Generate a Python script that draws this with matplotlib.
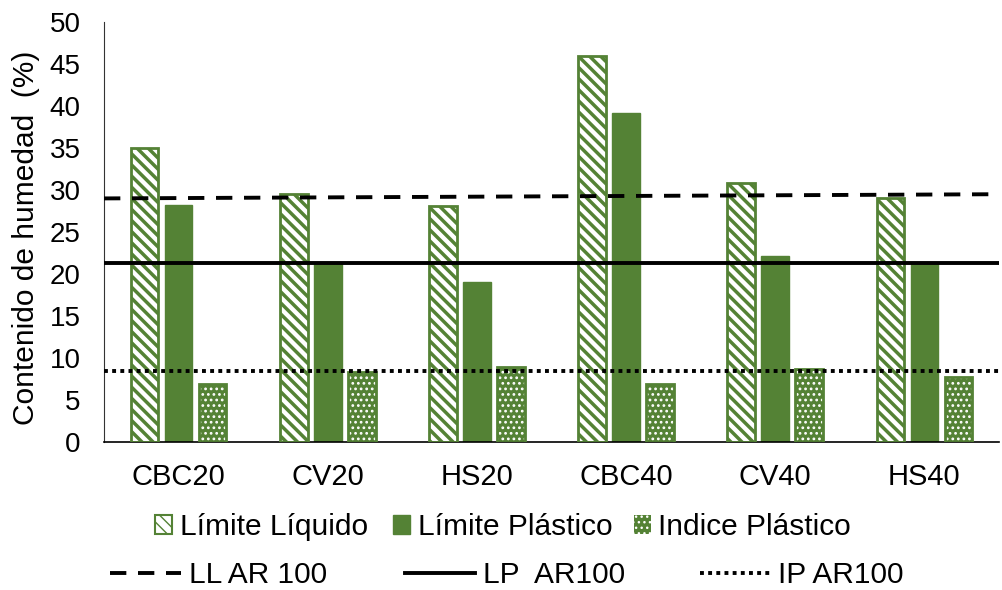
import matplotlib.pyplot as plt
from matplotlib.patches import Patch
import numpy as np

plt.rcParams['font.family'] = ['Liberation Sans', 'DejaVu Sans']

categories = ['CBC20', 'CV20', 'HS20', 'CBC40', 'CV40', 'HS40']
limite_liquido = [35.0, 29.5, 28.1, 46.0, 30.8, 29.1]
limite_plastico = [28.2, 21.2, 19.0, 39.2, 22.1, 21.3]
indice_plastico = [6.9, 8.3, 8.9, 6.9, 8.7, 7.8]

# reference lines (start, end)
ll_ar100 = [29.0, 29.5]
lp_ar100 = [21.3, 21.3]
ip_ar100 = [8.4, 8.4]

green = '#548235'

fig = plt.figure(figsize=(10.03, 5.90), dpi=100)
ax = fig.add_axes([0.1037, 0.2508, 0.8923, 0.7119])

x = np.arange(len(categories))
w = 0.185
off = 0.228

plt.rcParams['hatch.linewidth'] = 2.5
ax.bar(x - off, limite_liquido, w, facecolor='white', edgecolor=green,
       hatch='\\\\\\', linewidth=0, zorder=2)
ax.bar(x - off, limite_liquido, w, facecolor='none', edgecolor=green,
       linewidth=2, zorder=3)
ax.bar(x, limite_plastico, w, color=green, edgecolor=green, zorder=2)
plt.rcParams['hatch.linewidth'] = 1.2
ax.bar(x + off, indice_plastico, w, facecolor=green, edgecolor='white',
       hatch='...', linewidth=0, zorder=2)
ax.bar(x + off, indice_plastico, w, facecolor='none', edgecolor=green,
       linewidth=2, zorder=3)

ax.set_xlim(-0.5, len(categories) - 0.5)
xl = ax.get_xlim()
l1, = ax.plot(xl, ll_ar100, color='black', lw=2.8, ls=(0, (4.2, 3.0)), zorder=4)
l2, = ax.plot(xl, lp_ar100, color='black', lw=2.8, ls='-', zorder=4)
l3, = ax.plot(xl, ip_ar100, color='black', lw=2.8, ls=(0, (1, 1.1)), zorder=4)

ax.set_ylim(0, 50)
ax.set_yticks(range(0, 51, 5))
ax.set_xticks(x)
ax.set_xticklabels(categories)
ax.tick_params(axis='y', length=0, labelsize=20, pad=17)
ax.tick_params(axis='x', length=0, labelsize=21, pad=15)
ax.set_ylabel('Contenido de humedad  (%)', fontsize=21.5)
ax.yaxis.set_label_coords(-0.072, 0.486)

for s in ['top', 'right']:
    ax.spines[s].set_visible(False)
ax.spines['left'].set_color('#333333')
ax.spines['bottom'].set_color('black')
ax.spines['bottom'].set_linewidth(1.2)

# legend, built entry by entry like the Excel one
plt.rcParams['hatch.linewidth'] = 2.0
h_ll = Patch(facecolor='white', edgecolor=green, hatch='\\\\\\', linewidth=1.5)
h_lp = Patch(facecolor=green, edgecolor=green)
plt.rcParams['hatch.linewidth'] = 1.0
h_ip = Patch(facecolor=green, edgecolor='white', hatch='...', linewidth=0)

bar_entries = [(h_ll, 'Límite Líquido', 0.155), (h_lp, 'Límite Plástico', 0.392),
               (h_ip, 'Indice Plástico', 0.632)]
line_entries = [(l1, 'LL AR 100', 0.110), (l2, 'LP  AR100', 0.404),
                (l3, 'IP AR100', 0.698)]

for h, lab, xa in bar_entries:
    fig.legend([h], [lab], loc='center left', bbox_to_anchor=(xa, 0.107),
               frameon=False, fontsize=21.5, handlelength=0.57,
               handleheight=0.57, handletextpad=0.25, borderpad=0,
               borderaxespad=0)
for h, lab, xa in line_entries:
    fig.legend([h], [lab], loc='center left', bbox_to_anchor=(xa, 0.025),
               frameon=False, fontsize=21.5, handlelength=2.35,
               handletextpad=0.27, borderpad=0, borderaxespad=0)

plt.savefig('out.png', dpi=100)
